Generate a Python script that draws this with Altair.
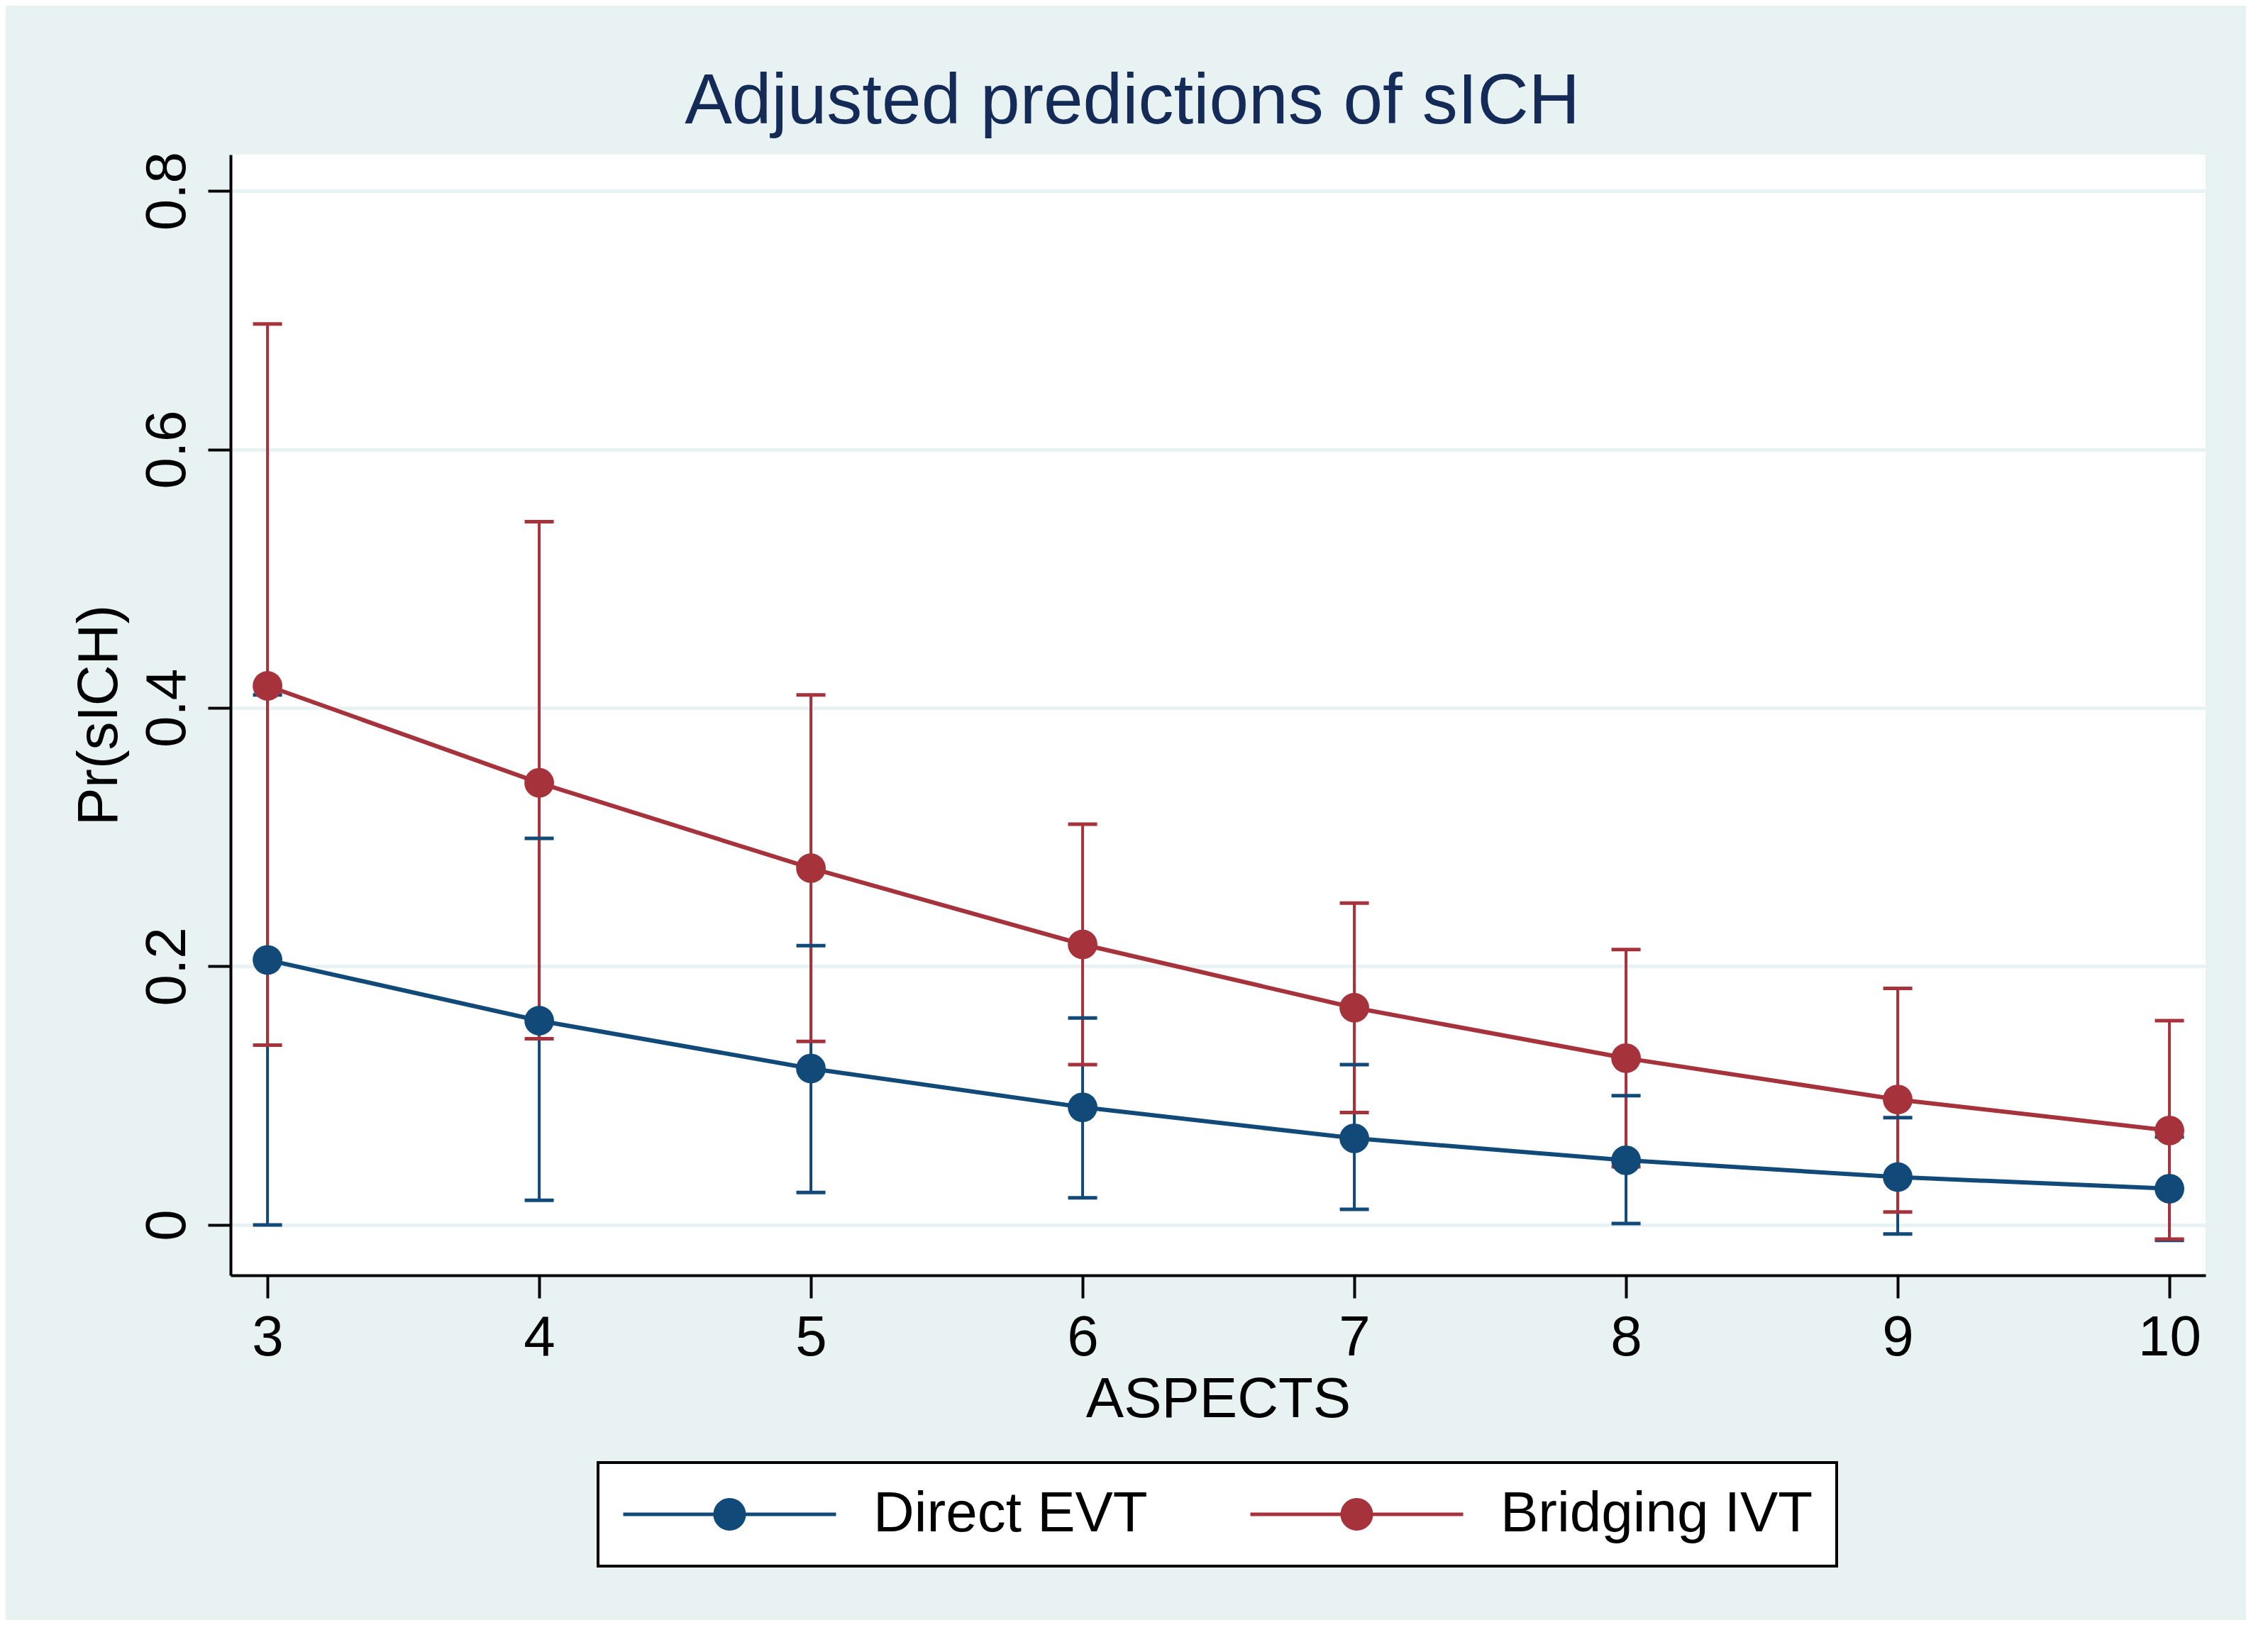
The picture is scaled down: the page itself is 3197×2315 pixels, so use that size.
import altair as alt
import pandas as pd

# ---- data ----
aspects = [3, 4, 5, 6, 7, 8, 9, 10]
series_names = ["Direct EVT", "Bridging IVT"]

direct_est = [0.205, 0.158, 0.121, 0.091, 0.067, 0.050, 0.037, 0.028]
direct_lo = [0.000, 0.019, 0.025, 0.021, 0.012, 0.001, -0.007, -0.012]
direct_hi = [0.410, 0.299, 0.216, 0.160, 0.124, 0.100, 0.083, 0.068]

bridging_est = [0.417, 0.342, 0.276, 0.217, 0.168, 0.129, 0.097, 0.073]
bridging_lo = [0.139, 0.144, 0.142, 0.124, 0.087, 0.045, 0.010, -0.011]
bridging_hi = [0.697, 0.544, 0.410, 0.310, 0.249, 0.213, 0.183, 0.158]

y_ticks = [0, 0.2, 0.4, 0.6, 0.8]

# ---- styling ----
FONT = "Liberation Sans"
BLUE = "#114A79"
RED = "#A6323B"
BG = "#E8F2F3"
TITLE_COLOR = "#142A57"

rows = []
for name, est, lo, hi in [
    (series_names[0], direct_est, direct_lo, direct_hi),
    (series_names[1], bridging_est, bridging_lo, bridging_hi),
]:
    for a, e, l, h in zip(aspects, est, lo, hi):
        rows.append({"aspects": a, "group": name, "est": e, "lo": l, "hi": h})
df = pd.DataFrame(rows)

x_scale = alt.Scale(domain=[2.864, 10.133], nice=False, zero=False)
y_scale = alt.Scale(domain=[-0.039, 0.828], nice=False, zero=False)
color_scale = alt.Scale(domain=series_names, range=[BLUE, RED])

x_axis = alt.Axis(
    values=aspects, title="ASPECTS", grid=False, format="d",
    labelPadding=17, titlePadding=8,
)
y_axis = alt.Axis(
    values=y_ticks, title="Pr(sICH)", grid=True, gridColor=BG, gridWidth=5,
    labelAngle=270, labelAlign="center", labelBaseline="bottom",
    labelExpr="datum.value == 0 ? '0' : format(datum.value, '.1f')",
    labelPadding=16, titlePadding=15,
)

X = alt.X("aspects:Q", scale=x_scale, axis=x_axis)

# legend symbol: a horizontal line with a solid disc (drawn as concentric strokes)
SYM_HALF = 150.0  # px per path unit (sqrt(symbolSize)/2)
legend_path = "M-1,0L1,0"
for r_px in [20.5, 16.5, 12.5, 8.5, 4.5, 1.0]:
    r = r_px / SYM_HALF
    legend_path += f"M{-r:.4f},0A{r:.4f},{r:.4f},0,1,0,{r:.4f},0A{r:.4f},{r:.4f},0,1,0,{-r:.4f},0"

legend = alt.Legend(
    orient="none", legendX=518, legendY=1844, direction="horizontal",
    title=None, symbolType=legend_path, symbolSize=90000, symbolStrokeWidth=5,
    clipHeight=80,
    labelFont=FONT, labelFontSize=80, labelColor="black", labelLimit=2000,
    labelOffset=50, columnPadding=142, padding=33,
    fillColor="white", strokeColor="black",
)
COLOR = alt.Color("group:N", scale=color_scale, legend=legend)

base = alt.Chart(df)

rules = base.mark_rule(strokeWidth=4).encode(
    x=X, y=alt.Y("lo:Q", scale=y_scale, axis=y_axis), y2="hi:Q", color=COLOR
)
caps_lo = base.mark_tick(orient="horizontal", size=41, thickness=5, opacity=1).encode(
    x=X, y=alt.Y("lo:Q", scale=y_scale, axis=y_axis), color=COLOR
)
caps_hi = base.mark_tick(orient="horizontal", size=41, thickness=5, opacity=1).encode(
    x=X, y=alt.Y("hi:Q", scale=y_scale, axis=y_axis), color=COLOR
)
lines = base.mark_line(strokeWidth=6).encode(
    x=X, y=alt.Y("est:Q", scale=y_scale, axis=y_axis), color=COLOR
)
points = base.mark_point(filled=True, shape="circle", size=1750, opacity=1).encode(
    x=X, y=alt.Y("est:Q", scale=y_scale, axis=y_axis), color=COLOR
)

chart = (
    alt.layer(rules, caps_lo, caps_hi, lines, points)
    .properties(
        width=2784,
        height=1580,
        autosize=alt.AutoSizeParams(type="none"),
        padding={"left": 317, "top": 210, "right": 57, "bottom": 486},
        background=BG,
        title=alt.TitleParams(
            "Adjusted predictions of sICH", font=FONT, fontSize=100,
            fontWeight="normal", color=TITLE_COLOR, anchor="middle",
            frame="group", dx=-121, dy=104, offset=43, baseline="alphabetic",
        ),
    )
    .configure_view(fill="white", strokeWidth=0)
    .configure_axis(
        domainColor="black", domainWidth=4, tickColor="black", tickWidth=4,
        tickSize=32, labelFont=FONT, labelFontSize=80, labelColor="black",
        titleFont=FONT, titleFontSize=80, titleFontWeight="normal",
        titleColor="black",
    )
    .configure_legend(strokeWidth=4)
)

chart.save("out.html", embed_options={"renderer": "svg", "actions": False})
